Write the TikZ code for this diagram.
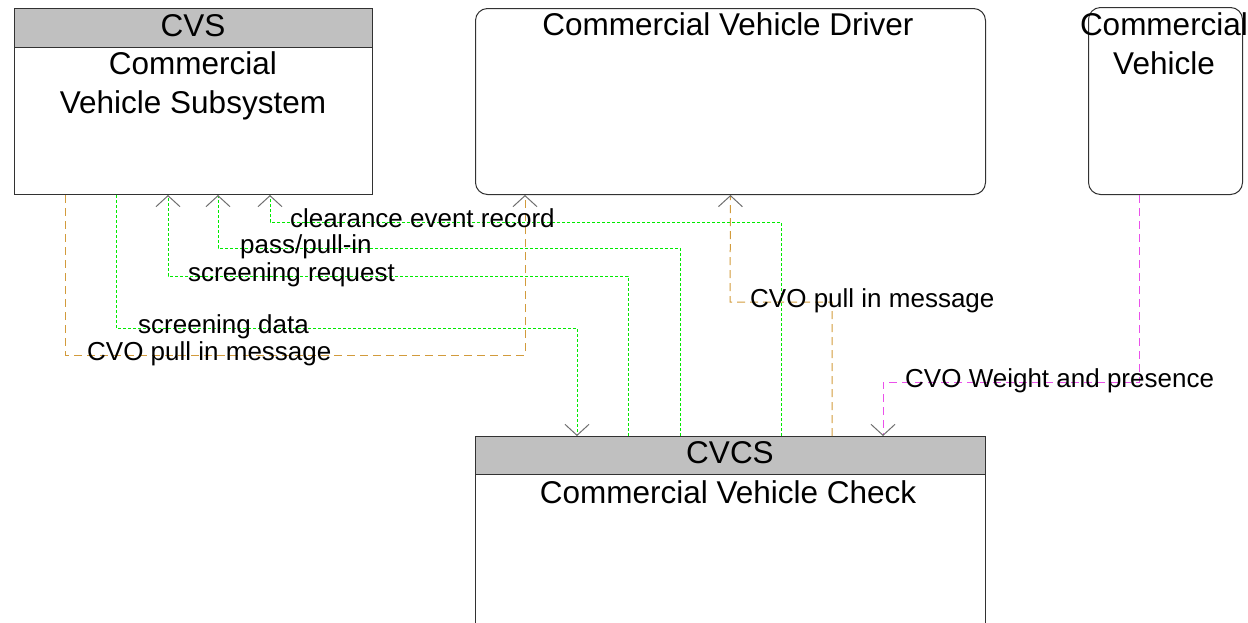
\documentclass[tikz,border=0pt]{standalone}
\usepackage{fontspec}
\setmainfont{Liberation Sans}
\usetikzlibrary{arrows.meta}
\definecolor{hdr}{RGB}{192,192,192}
\definecolor{flowg}{RGB}{0,235,0}
\definecolor{flowo}{RGB}{210,155,60}
\definecolor{flowm}{RGB}{235,80,235}
\definecolor{tipc}{RGB}{110,110,110}
\definecolor{edgec}{RGB}{50,50,50}
\begin{document}
\begin{tikzpicture}[x=1pt,y=-1pt,
  box/.style={draw=edgec, line width=1pt, inner sep=0pt, anchor=north west},
  hbox/.style={box, fill=hdr},
  rbox/.style={box, rounded corners=12pt},
  ttl/.style={font=\fontsize{31.5}{39}\selectfont, anchor=base, inner sep=0pt},
  lbl/.style={font=\fontsize{26}{30}\selectfont, anchor=base west, inner sep=0pt},
  flow/.style={line width=1pt, -{Straight Barb[color=tipc, length=11pt, width=24pt, line width=1pt]}},
  fg/.style={flow, draw=flowg, dash pattern=on 3pt off 2pt},
  fo/.style={flow, draw=flowo, dash pattern=on 8pt off 5pt},
  fm/.style={flow, draw=flowm, dash pattern=on 8pt off 5pt},
]
\useasboundingbox (0,0) rectangle (1248,622);
% CVS
\node[box, minimum width=358pt, minimum height=186pt] (cvs) at (14,8) {};
\node[hbox, minimum width=358pt, minimum height=39pt] (cvsh) at (14,8) {};
\node[ttl] (cvst) at (193,36) {CVS};
\node[ttl] (cvsn1) at (193,74) {Commercial};
\node[ttl] (cvsn2) at (193,113) {Vehicle Subsystem};
% Driver
\node[rbox, minimum width=510pt, minimum height=186pt] (drv) at (475,8) {};
\node[ttl] (drvt) at (728,35) {Commercial Vehicle Driver};
% Commercial Vehicle
\node[rbox, minimum width=154pt, minimum height=187pt] (cv) at (1088,7) {};
\node[ttl] (cvt1) at (1164,35) {Commercial};
\node[ttl] (cvt2) at (1164,74) {Vehicle};
% CVCS
\node[box, minimum width=510pt, minimum height=200pt] (cvcs) at (475,436) {};
\node[hbox, minimum width=510pt, minimum height=38pt] (cvcsh) at (475,436) {};
\node[ttl] (cvcst) at (730,463) {CVCS};
\node[ttl] (cvcsn) at (728,503) {Commercial Vehicle Check};
% connectors
\draw[fo] (65,0 |- cvs.south) |- (525,355) -- (525,0 |- drv.south);
\draw[fg] (116,0 |- cvs.south) |- (577,328) -- (577,0 |- cvcs.north);
\draw[fg] (628,0 |- cvcs.north) |- (168,276) -- (168,0 |- cvs.south);
\draw[fg] (680,0 |- cvcs.north) |- (218,248) -- (218,0 |- cvs.south);
\draw[fg] (781,0 |- cvcs.north) |- (270,222) -- (270,0 |- cvs.south);
\draw[fo] (832,0 |- cvcs.north) |- (730,302) -- (drv.south);
\draw[fm] (1139,0 |- cv.south) |- (883,382) -- (883,0 |- cvcs.north);
% labels
\node[lbl] (l1) at (87,360) {CVO pull in message};
\node[lbl] (l2) at (138,333) {screening data};
\node[lbl] (l3) at (188,281) {screening request};
\node[lbl] (l4) at (240,253) {pass/pull-in};
\node[lbl] (l5) at (290,227) {clearance event record};
\node[lbl] (l6) at (750,307) {CVO pull in message};
\node[lbl] (l7) at (905,387) {CVO Weight and presence};
\end{tikzpicture}
\end{document}
